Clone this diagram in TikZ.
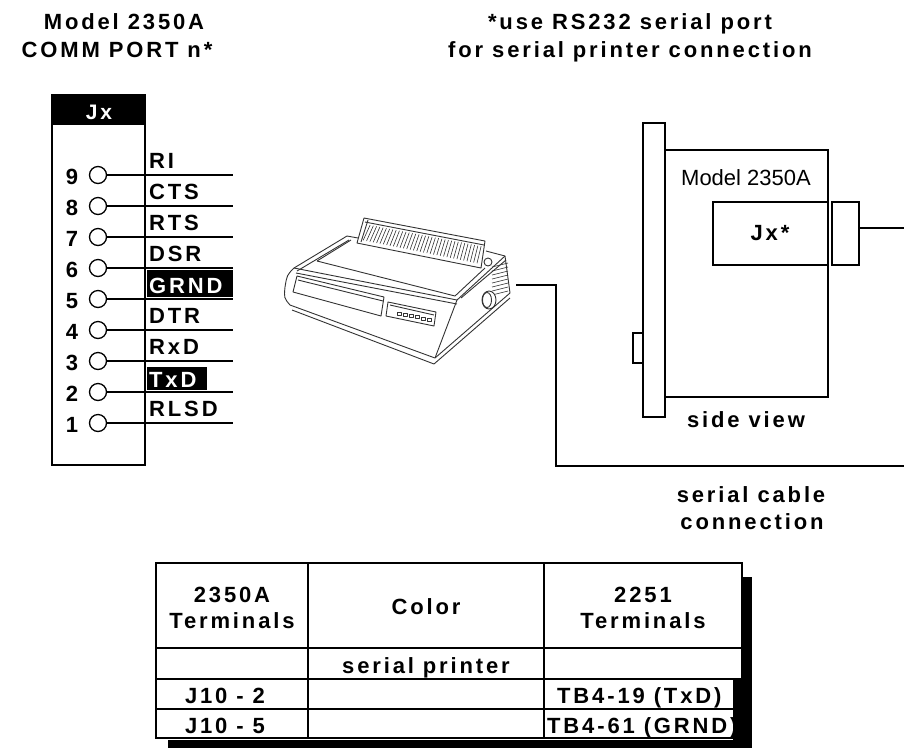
\documentclass[tikz,border=0pt]{standalone}
\usepackage{fontspec}
\setmainfont{Liberation Sans}
\newfontfamily\spacedsans[LetterSpace=13]{Liberation Sans}
\usetikzlibrary{calc}
\newcommand\labfont{\spacedsans\bfseries\fontsize{22}{26}\selectfont}
\newcommand\jxfont{\spacedsans\bfseries\fontsize{21}{25}\selectfont}
\newcommand\plainfont{\normalfont\fontsize{22}{26}\selectfont}

\begin{document}
\begin{tikzpicture}[x=1pt,y=-1pt,
  lbl/.style={font=\labfont,inner sep=0pt},
  frame/.style={draw,line width=2pt},
  wire/.style={line width=2pt},
  pinring/.style={draw,circle,line width=1.3pt,minimum size=17pt,inner sep=0pt},
  sketch/.style={line width=0.9pt,draw=black!80,line join=round},
  cell/.style={font=\labfont,inner sep=0pt,anchor=base}]
\useasboundingbox (0,0) rectangle (904,748);

% ---- headings ----
\node[lbl,anchor=base] (ttlA) at (124,29) {Model 2350A};
\node[lbl,anchor=base] (ttlB) at (117,57) {COMM PORT n*};
\node[lbl,anchor=base] (noteA) at (630,29) {*use RS232 serial port};
\node[lbl,anchor=base] (noteB) at (630,57) {for serial printer connection};

% ---- DB9 connector Jx ----
\draw[frame] (52,95) rectangle (145,465);
\fill (52,95) rectangle (145,125);
\node[font=\jxfont,text=white,inner sep=0pt,anchor=base] (jxhead) at (99,119) {Jx};

\foreach \n in {1,...,9}{
  \pgfmathsetmacro\py{175+31*(9-\n)}
  \node[pinring] (pin\n) at (98,\py) {};
  \coordinate (wend\n) at (233,\py);
  \draw[wire] (pin\n.east) -- (wend\n);
  \node[lbl,anchor=base] (num\n) at (72,\py+9) {\n};
}
\foreach \n/\sig in {9/RI,8/CTS,7/RTS,6/DSR,4/DTR,3/RxD,1/RLSD}{
  \pgfmathsetmacro\py{175+31*(9-\n)}
  \node[lbl,anchor=base west] (sig\n) at (149,\py-7) {\sig};
}
\fill (147,270) rectangle (233,297);
\node[lbl,text=white,anchor=base west] (sig5) at (149,293) {GRND};
\fill (147,367) rectangle (207,390);
\node[lbl,text=white,anchor=base west] (sig2) at (149,387) {TxD};

% ---- printer ----
\begin{scope}[sketch]
  \coordinate (trA) at (364,218);
  \coordinate (trB) at (485,241);
  \coordinate (trC) at (481,268);
  \coordinate (trD) at (357,243);
  \coordinate (FLt) at (294,268);
  \coordinate (FRt) at (457,300);
  \coordinate (FRb) at (435,358);
  \coordinate (FLb) at (290,305);
  \coordinate (Lmid) at (285,287);
  \coordinate (BLt) at (347,236);
  \coordinate (BRt) at (505,256);
  \coordinate (BRb) at (510,293);
  % body silhouette
  \draw (BLt) -- (FLt) .. controls (287,275) .. (Lmid)
        .. controls (284,298) .. (FLb) -- (FRb) -- (BRb) -- (BRt) -- (486,251);
  \draw (BLt) -- (358,238);
  \draw (349,240) -- (297,271);
  % front top edge, doubled
  \draw (FLt) -- (FRt);
  \draw (296,273) -- (457,304);
  \draw (FRt) -- (FRb);
  \draw (FRt) -- (BRt);
  \draw (461,298) -- (506,260);
  % base lip
  \draw (292,310) -- (434,364) -- (510,298);
  % top cover
  \draw (317,261) -- (455,296) -- (485,268);
  \draw (317,261) -- (351,240);
  % front recess
  \draw (297,276) -- (384,297) -- (381,316) -- (293,292) -- cycle;
  \draw (298,280) -- (383,301);
  % control panel
  \draw (388,302) -- (436,312) -- (434,326) -- (386,316) -- cycle;
  \draw (390,305) -- (434,315);
  \foreach \k in {0,...,5}
    \draw[line width=0.6pt] ({397+6*\k},{312+1.2*\k}) rectangle ++(4,3);
  % side vents
  \foreach \k in {0,...,7}
    \draw[line width=0.6pt] (492,{267+4*\k}) -- (508,{263+4*\k});
  % knob
  \draw[fill=white] (489,300) ellipse [x radius=7,y radius=9];
  \draw (487,300) ellipse [x radius=4.5,y radius=7.5];
  % paper tray with hatching
  \draw[fill=white] (trA) -- (trB) -- (trC) -- (trD) -- cycle;
  \draw ($(trA)+(1,4)$) -- ($(trB)+(-1,4)$);
  \draw ($(trA)+(4,2)$) -- ($(trD)+(4,-1)$);
  \foreach \t in {0.05,0.077,...,0.97}
    \draw[line width=0.6pt] ($(trA)!\t!(trB)+(0,6)$) -- ($(trD)!\t!(trC)+(0,-4)$);
  % roller end
  \draw (488,262) circle [radius=4];
\end{scope}

% ---- serial cable ----
\coordinate (prtport) at (516,285);
\coordinate (cbendA) at (556,285);
\coordinate (cbendB) at (556,466);
\coordinate (cblend) at (904,466);
\draw[wire] (prtport) -- (cbendA) -- (cbendB) -- (cblend);

% ---- side view of the unit ----
\draw[frame] (643,123) rectangle (665,417);
\draw[frame] (633,333) rectangle (643,363);
\draw[frame] (665,150) rectangle (828,397);
\draw[frame] (713,202) rectangle (828,265);
\node[draw,line width=2pt,minimum width=27pt,minimum height=63pt,inner sep=0pt] (plug) at (845.5,233.5) {};
\coordinate (plugout) at (859,228);
\coordinate (plugend) at (904,228);
\draw[wire] (plugout) -- (plugend);
\node[font=\plainfont,inner sep=0pt,anchor=base] (unitname) at (746,185) {Model 2350A};
\node[lbl,anchor=base] (jxstar) at (770,240) {Jx*};
\node[lbl,anchor=base] (sideview) at (746,427) {side view};
\node[lbl,anchor=base] (cabA) at (751,502) {serial cable};
\node[lbl,anchor=base] (cabB) at (752,529) {connection};

% ---- wiring table ----
\draw[frame] (156,563) rectangle (742,738);
\draw[frame] (308,563) -- (308,738);
\draw[frame] (544,563) -- (544,738);
\draw[frame] (156,648) -- (742,648);
\draw[frame] (156,679) -- (742,679);
\draw[frame] (156,709) -- (742,709);
\node[cell] (hA1) at (232,602) {2350A};
\node[cell] (hA2) at (232,628) {Terminals};
\node[cell] (hB) at (426,614) {Color};
\node[cell] (hC1) at (643,602) {2251};
\node[cell] (hC2) at (643,628) {Terminals};
\node[cell] (sp) at (426,673) {serial printer};
\node[cell] (rA1) at (225,703) {J10 - 2};
\node[cell] (rA2) at (225,733) {J10 - 5};
\node[cell,anchor=base west] (rC1) at (557,703) {TB4-19 (TxD)};
\node[cell,anchor=base west] (rC2) at (547,733) {TB4-61 (GRND)};
% drop shadow
\fill (743,577) rectangle (752,748);
\fill (733,679) rectangle (752,740);
\fill (168,740) rectangle (752,748);
\end{tikzpicture}
\end{document}
